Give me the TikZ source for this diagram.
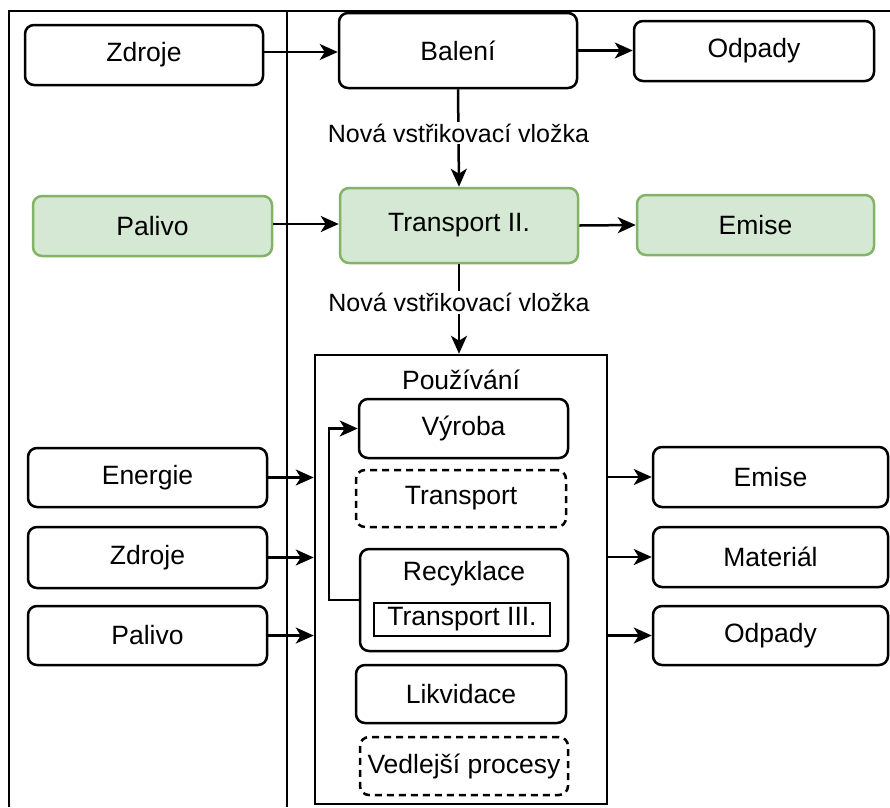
\documentclass[tikz,border=0pt]{standalone}
\usepackage{fontspec}
\setmainfont{Liberation Sans}
\usetikzlibrary{arrows.meta,calc}
\definecolor{greenfill}{HTML}{D5E8D4}
\definecolor{greenline}{HTML}{82B366}
\newcommand{\boxfont}{\fontsize{26.5}{31}\selectfont}
\newcommand{\lblfont}{\fontsize{25}{30}\selectfont}
\begin{document}
\begin{tikzpicture}[x=1pt,y=-1pt,
  box/.style={draw, line width=2.5pt, rounded corners=9pt, inner sep=0pt,
    font=\boxfont, align=center},
  greenbox/.style={box, draw=greenline, fill=greenfill},
  dashbox/.style={box, dash pattern=on 7pt off 5pt},
  frame/.style={line width=2.2pt},
  flow/.style={line width=2.5pt, -{Stealth[length=18pt,width=16pt,inset=5pt]}},
  flowlabel/.style={fill=white, font=\lblfont, inner sep=2pt}]
\useasboundingbox (0,0) rectangle (890,807);

% lane borders
\coordinate (tl) at (9,11);
\coordinate (tr) at (890,11);
\coordinate (bl) at (9,807);
\coordinate (tm) at (287,11);
\coordinate (bm) at (287,807);
\draw[frame] (tr) -- (tl) -- (bl);
\draw[frame] (tm) -- (bm);

% upper chain
\node[box, minimum width=238, minimum height=60] (zdroje1) at (144,55) {Zdroje};
\node[box, minimum width=238, minimum height=75] (baleni) at (458,50.5) {Balení};
\node[box, minimum width=240, minimum height=60] (odpady1) at (754,51) {Odpady};
\node[greenbox, minimum width=239, minimum height=60] (palivo1) at (152.5,226) {Palivo};
\node[greenbox, minimum width=238, minimum height=75] (transport2) at (459,225.5) {Transport II.};
\node[greenbox, minimum width=237, minimum height=60] (emise1) at (755.5,225) {Emise};

% usage phase container
\node[draw, line width=2.5pt, minimum width=292, minimum height=449, inner sep=0pt] (pouz) at (461,579.5) {};
\node[font=\boxfont, inner sep=0pt] (pouztitle) at (461,380) {Používání};
\node[box, minimum width=209, minimum height=59] (vyroba) at (463.5,428.5) {Výroba};
\node[dashbox, minimum width=210, minimum height=57] (transport) at (461,498.5) {Transport};
\node[box, minimum width=208, minimum height=102] (recyk) at (464,600) {};
\node[font=\boxfont, inner sep=0pt] (recyktitle) at (464,574) {Recyklace};
\node[draw, line width=2.5pt, minimum width=176, minimum height=33, inner sep=0pt, font=\boxfont] (transport3) at (462,619.5) {Transport III.};
\node[box, minimum width=210, minimum height=58] (likvidace) at (461,694) {Likvidace};
\node[dashbox, minimum width=208, minimum height=58] (vedlejsi) at (464,766) {Vedlejší procesy};

% inputs and outputs of usage phase
\node[box, minimum width=239, minimum height=59] (energie) at (147.5,477.5) {Energie};
\node[box, minimum width=239, minimum height=61] (zdroje2) at (147.5,557.5) {Zdroje};
\node[box, minimum width=239, minimum height=59] (palivo2) at (147.5,635.5) {Palivo};
\node[box, minimum width=235, minimum height=60] (emise2) at (770.5,477) {Emise};
\node[box, minimum width=235, minimum height=60] (material) at (770.5,557) {Materiál};
\node[box, minimum width=235, minimum height=59] (odpady2) at (770.5,635.5) {Odpady};

% connectors
\draw[flow] (zdroje1.east |- 0,52) -- (baleni.west |- 0,52);
\draw[flow] (baleni.east) -- (odpady1.west |- baleni.east);
\draw[flow] (palivo1.east |- 0,224) -- (transport2.west |- 0,224);
\draw[flow] (transport2.east) -- (emise1.west);
\draw[flow] (baleni.south) -- node[flowlabel, pos=0.45] {Nová vstřikovací vložka} (transport2.north);
\draw[flow] (transport2.south) -- node[flowlabel, pos=0.43] {Nová vstřikovací vložka} (pouz.north -| transport2.south);

\draw[flow] (energie.east) -- (energie.east -| pouz.west);
\draw[flow] (zdroje2.east) -- (zdroje2.east -| pouz.west);
\draw[flow] (palivo2.east) -- (palivo2.east -| pouz.west);
\draw[flow] (pouz.east |- emise2.west) -- (emise2.west);
\draw[flow] (pouz.east |- material.west) -- (material.west);
\draw[flow] (pouz.east |- odpady2.west) -- (odpady2.west);

% recycling loop back to production
\draw[flow, rounded corners=0pt] (recyk.west) -- ++(-30,0) |- (vyroba.west);
\end{tikzpicture}
\end{document}
